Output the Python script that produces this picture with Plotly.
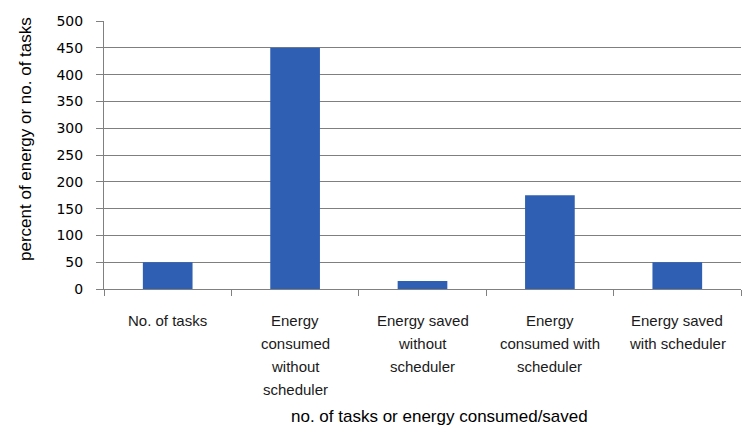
import plotly.graph_objects as go

categories = ["No. of tasks", "Energy consumed without scheduler", "Energy saved without scheduler",
              "Energy consumed with scheduler", "Energy saved with scheduler"]
category_lines = [["No. of tasks"],
                  ["Energy", "consumed", "without", "scheduler"],
                  ["Energy saved", "without", "scheduler"],
                  ["Energy", "consumed with", "scheduler"],
                  ["Energy saved", "with scheduler"]]
values = [50, 450, 15, 175, 50]
y_ticks = list(range(0, 501, 50))
x_title = "no. of tasks or energy consumed/saved"
y_title = "percent of energy or no. of tasks"

fig = go.Figure(go.Bar(x=categories, y=values, marker=dict(color="#2F5FB3", line=dict(width=0)), width=0.39))

label_font = dict(family="Liberation Sans, Arial, sans-serif", size=15, color="#1a1a1a")
for cat, lines in zip(categories, category_lines):
    for i, line in enumerate(lines):
        fig.add_annotation(x=cat, xref="x", y=0, yref="paper", text=line, showarrow=False,
                           xanchor="center", yanchor="middle", yshift=-31 - 23 * i, font=label_font)

title_font = dict(family="Liberation Sans, Arial, sans-serif", size=17, color="black")
fig.add_annotation(x=(439 - 104) / (741 - 104), xref="paper", y=0, yref="paper", yshift=-127,
                   text=x_title, showarrow=False, xanchor="center", yanchor="middle", font=title_font)
fig.add_annotation(x=0, xref="paper", xshift=-79, y=(289 - 139) / (289 - 21), yref="paper",
                   text=y_title, showarrow=False, textangle=-90, xanchor="center", yanchor="middle",
                   font=title_font)

fig.update_layout(
    width=756, height=438,
    margin=dict(l=96, r=23, t=13, b=157),
    paper_bgcolor="white", plot_bgcolor="white",
    font=dict(family="Liberation Sans, Arial, sans-serif", size=13, color="black"),
    showlegend=False,
)
fig.update_xaxes(
    type="category", tickson="boundaries", ticks="outside", ticklen=6, tickcolor="#808080",
    showline=True, linecolor="#808080", linewidth=1,
    showgrid=False, showticklabels=False, automargin=False,
)
fig.update_yaxes(
    range=[0, 500], tickvals=y_ticks, ticks="outside", ticklen=7, tickcolor="#808080",
    showline=True, linecolor="#808080", linewidth=1,
    showgrid=True, gridcolor="#7F7F7F", gridwidth=1, zeroline=False,
    tickfont=dict(family="DejaVu Sans, sans-serif", size=14, color="black"),
    ticklabelstandoff=10, automargin=False,
)

fig.write_html("out.html")
